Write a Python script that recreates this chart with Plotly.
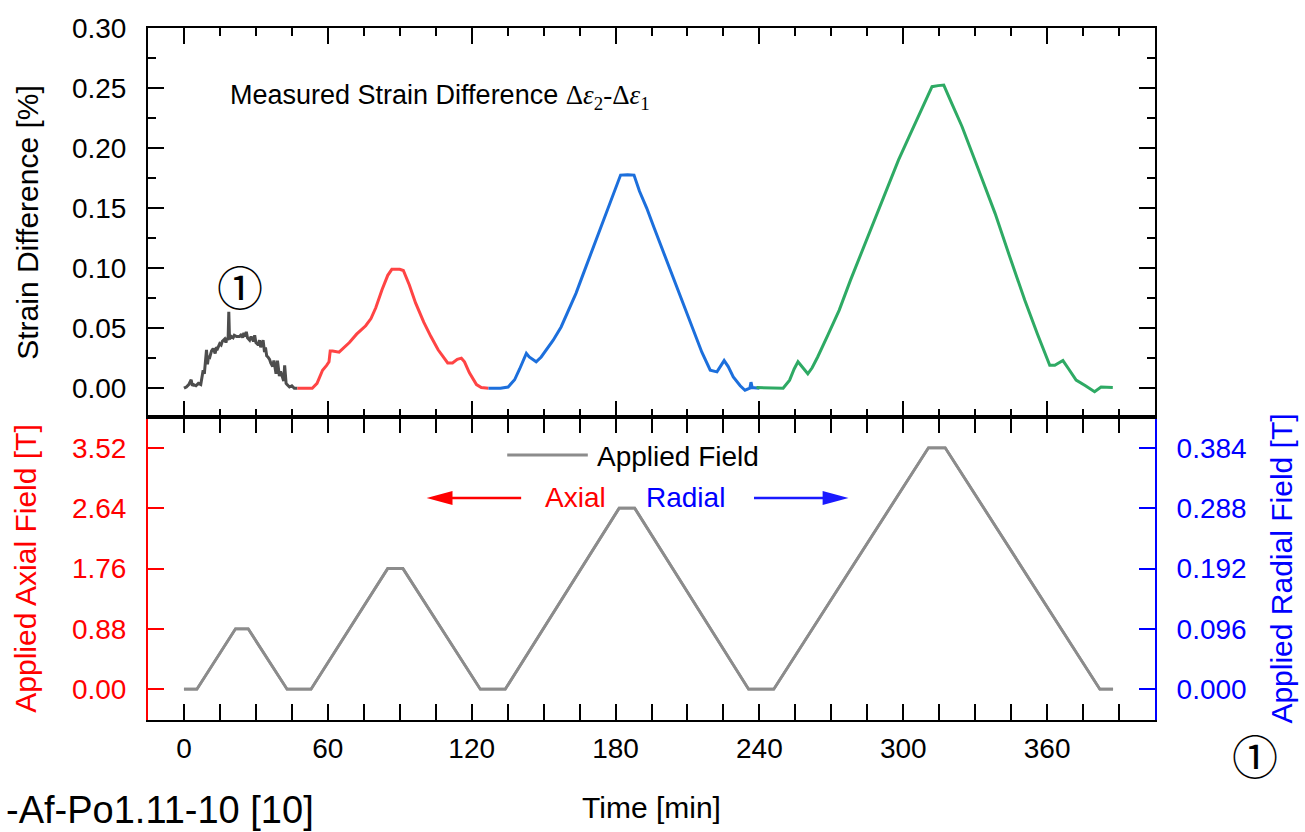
import plotly.graph_objects as go

# ---------------- data ----------------
gray_t = [0, 1, 2, 3, 3.5, 4, 5, 6, 7, 7.5, 8, 8.5, 9, 9.4, 9.8, 10.3, 10.8, 11.5, 12.2, 13,
          13.5, 14, 14.9, 15.5, 16, 17, 17.5, 18, 18.4, 18.7, 19, 19.8, 20.5, 21, 22, 23.2,
          24, 24.5, 25, 25.5, 26, 26.5, 27.4, 28, 29, 29.5, 30, 31, 31.5, 32, 33, 33.6,
          34, 34.5, 35, 35.7, 36.2, 37, 37.5, 38, 38.4, 39, 39.8, 40.3, 41.2, 41.6, 42,
          42.6, 43, 44, 45, 46, 47.3]
gray_s = [0, 0.001, 0.003, 0.007, 0.002, 0.003, 0.002, 0.004, 0.003, 0.009, 0.015, 0.012,
          0.025, 0.032, 0.020, 0.027, 0.026, 0.031, 0.033, 0.029, 0.034, 0.033, 0.037, 0.036,
          0.039, 0.041, 0.038, 0.042, 0.040, 0.0636, 0.041, 0.043, 0.042, 0.044, 0.043, 0.043,
          0.045, 0.042, 0.046, 0.043, 0.047, 0.042, 0.040, 0.043, 0.039, 0.044, 0.038, 0.036,
          0.040, 0.034, 0.040, 0.030, 0.034, 0.027, 0.026, 0.024, 0.021, 0.018, 0.023, 0.015,
          0.012, 0.023, 0.010, 0.014, 0.009, 0.006, 0.019, 0.004, 0.003, 0.001, 0.002, 0.0,
          0.0]

red_t = [47.3, 50, 53.5, 55.5, 57.8, 59.5, 60.5, 61, 62, 64.7, 67, 69, 72, 75.8, 78, 80,
         82.6, 85, 86.7, 90, 91.5, 94, 96.6, 100, 103, 106, 110, 112, 114, 115.7, 117, 119,
         122, 124, 127]
red_s = [0, 0, 0, 0.004, 0.015, 0.019, 0.022, 0.031, 0.031, 0.030, 0.034, 0.038, 0.045,
         0.052, 0.058, 0.067, 0.082, 0.094, 0.099, 0.099, 0.098, 0.086, 0.071, 0.055, 0.043,
         0.032, 0.021, 0.021, 0.024, 0.025, 0.022, 0.013, 0.003, 0.0005, 0]

blue_t = [127, 132, 135.2, 137.9, 140, 142.8, 144, 146.9, 149, 151.7, 154, 157.3, 160, 163.5,
          166.5, 169.7, 173, 176.6, 179.5, 182.1, 185, 187.7, 190, 193, 196, 200, 204.3,
          208.5, 212.6, 216, 219.5, 222.3, 225.3, 227, 229.1, 232, 234, 236, 236.5, 237, 240]
blue_s = [0, 0, 0.001, 0.007, 0.016, 0.029, 0.026, 0.022, 0.026, 0.033, 0.040, 0.051, 0.063,
          0.079, 0.095, 0.112, 0.130, 0.148, 0.163, 0.1775, 0.1778, 0.1775, 0.164, 0.150,
          0.134, 0.113, 0.090, 0.069, 0.048, 0.030, 0.015, 0.0136, 0.023, 0.018, 0.0094,
          0.002, -0.0017, 0, 0.005, 0.0005, 0]

green_t = [238.8, 245.7, 249.9, 252.6, 254.5, 256.1, 258, 260.2, 262, 264.3, 268.5, 273.3,
           278, 283, 288.5, 294, 298, 302.4, 307, 312, 314.5, 316.9, 320.5, 324.5, 331.4,
           338.3, 344.5, 350.7, 356, 361.1, 363.2, 366.6, 369, 372.1, 376, 379.8, 382.5, 387.4]
green_s = [0.0005, 0.0005, 0, 0.0067, 0.016, 0.022, 0.017, 0.012, 0.017, 0.026, 0.044, 0.065,
           0.090, 0.115, 0.143, 0.1706, 0.190, 0.2094, 0.230, 0.2511, 0.252, 0.2525, 0.236,
           0.218, 0.182, 0.1456, 0.109, 0.0733, 0.045, 0.019, 0.019, 0.023, 0.016, 0.0067,
           0.002, -0.003, 0.001, 0.0005]

field_t = [0, 5.4, 21.5, 26.8, 43, 53, 85, 91.3, 123.6, 134, 181.5, 188, 235.5, 246, 310.5,
           317.5, 382, 387.5]
field_axial = [0, 0, 0.88, 0.88, 0, 0, 1.76, 1.76, 0, 0, 2.64, 2.64, 0, 0, 3.52, 3.52, 0, 0]

time_ticks = [0, 60, 120, 180, 240, 300, 360]
axial_ticks = [0.00, 0.88, 1.76, 2.64, 3.52]
radial_ticks = [0.000, 0.096, 0.192, 0.288, 0.384]
radial_ratio = 0.384 / 3.52

# ---------------- geometry helpers (pixel -> paper) ----------------
L, R, T, B = 148, 1160, 28, 720
W, H = 1305, 832
def px(x):
    return (x - L) / (R - L)
def py(y):
    return (B - y) / (B - T)

split = py(417)

FONT = "Liberation Sans, Arial, sans-serif"
c_gray, c_red, c_blue, c_green = "#4d4d4d", "#ff4444", "#1c6fdc", "#2eaa64"

fig = go.Figure()
for t, s, c in [(gray_t, gray_s, c_gray), (red_t, red_s, c_red),
                (blue_t, blue_s, c_blue), (green_t, green_s, c_green)]:
    fig.add_trace(go.Scatter(x=t, y=s, mode="lines", xaxis="x2", yaxis="y",
                             line=dict(color=c, width=3), showlegend=False))
fig.add_trace(go.Scatter(x=field_t, y=field_axial, mode="lines", xaxis="x", yaxis="y2",
                         line=dict(color="#8c8c8c", width=2.8), showlegend=False))
# radial-scale copy of the field (same line, drawn on the right axis)
fig.add_trace(go.Scatter(x=field_t, y=[v * radial_ratio for v in field_axial], mode="lines",
                         xaxis="x", yaxis="y3", line=dict(color="#8c8c8c", width=2.8),
                         showlegend=False, hoverinfo="skip"))

xr = [-15, 405]
tickstyle = dict(ticks="inside", ticklen=16, tickwidth=2, showline=True, linewidth=2,
                 showgrid=False, zeroline=False)
fig.update_layout(
    width=W, height=H,
    margin=dict(l=L, r=W - R, t=T, b=H - B),
    plot_bgcolor="white", paper_bgcolor="white",
    font=dict(family=FONT, size=28, color="black"),
    showlegend=False,
    xaxis=dict(domain=[0, 1], anchor="y2", range=xr, tickvals=time_ticks,
               linecolor="black", tickcolor="black", mirror="allticks",
               minor=dict(dtick=15, tick0=0, ticks="inside", ticklen=8, tickwidth=2,
                          tickcolor="black"),
               ticklabelstandoff=2,
               title=dict(text="Time [min]", font=dict(size=30), standoff=34),
               **tickstyle),
    xaxis2=dict(domain=[0, 1], anchor="y", matches="x", range=xr, tickvals=time_ticks,
                showticklabels=False, linecolor="black", tickcolor="black",
                mirror="allticks",
                minor=dict(dtick=15, tick0=0, ticks="inside", ticklen=8, tickwidth=2,
                           tickcolor="black"),
                **tickstyle),
    yaxis=dict(domain=[split, 1], anchor="x2", range=[-0.024, 0.30], dtick=0.05, tick0=0,
               tickformat=".2f", linecolor="black", tickcolor="black", mirror="allticks",
               minor=dict(dtick=0.025, tick0=0, ticks="inside", ticklen=8, tickwidth=2,
                          tickcolor="black"),
               ticklabelstandoff=14,
               title=dict(text="Strain Difference [%]", font=dict(size=30), standoff=24),
               **tickstyle),
    yaxis2=dict(domain=[0, split], anchor="x", range=[-0.45, 3.97], tickvals=axial_ticks,
                ticktext=[f"{v:.2f}" for v in axial_ticks], linecolor="#ff0000",
                tickcolor="#ff0000", tickfont=dict(color="#ff0000"),
                ticklabelstandoff=14,
                title=dict(text="Applied Axial Field [T]", font=dict(size=30, color="#ff0000"),
                           standoff=26),
                **tickstyle),
    yaxis3=dict(overlaying="y2", side="right", anchor="x",
                range=[-0.45 * radial_ratio, 3.97 * radial_ratio], tickvals=radial_ticks,
                ticktext=[f"{v:.3f}" for v in radial_ticks], linecolor="#0000ff",
                tickcolor="#0000ff", tickfont=dict(color="#0000ff"),
                ticklabelstandoff=14,
                title=dict(text="Applied Radial Field [T]", font=dict(size=30, color="#0000ff"),
                           standoff=25),
                **tickstyle),
)

def note(x, y, text, size=28, color="black", family=None, xanchor="center"):
    f = dict(size=size, color=color)
    if family:
        f["family"] = family
    return dict(xref="paper", yref="paper", x=px(x), y=py(y), xanchor=xanchor,
                yanchor="middle", showarrow=False, font=f, text=text)

ann = [
    note(228, 97, "Measured Strain Difference <span style='font-family:Liberation Serif'>"
                  "Δ<i>ε</i><sub>2</sub>-Δ<i>ε</i><sub>1</sub></span>", size=27, xanchor="left"),
    note(240, 285, "①", size=46, family="Noto Sans CJK JP"),
    note(1260, 754, "①", size=46, family="Noto Sans CJK JP"),
    note(3, 810, "-Af-Po1.11-10 [10]", size=38, xanchor="left"),
    note(597, 456, "Applied Field", xanchor="left"),
    note(578, 497, "Axial", color="#ff0000"),
    note(688, 497, "Radial", color="#0000ff"),
]
fig.update_layout(annotations=ann)

shapes = []
shapes.append(dict(type="line", xref="paper", yref="paper", x0=px(509), x1=px(590),
                   y0=py(455), y1=py(455), line=dict(color="#8c8c8c", width=2.8)))
# red arrow (left)
shapes.append(dict(type="line", xref="paper", yref="paper", x0=px(448), x1=px(523),
                   y0=py(498), y1=py(498), line=dict(color="#ff0000", width=2.5)))
shapes.append(dict(type="path", xref="paper", yref="paper",
                   path=f"M{px(428)},{py(498)} L{px(454)},{py(491)} L{px(454)},{py(505)} Z",
                   fillcolor="#ff0000", line=dict(width=0)))
# blue arrow (right)
shapes.append(dict(type="line", xref="paper", yref="paper", x0=px(757), x1=px(832),
                   y0=py(498), y1=py(498), line=dict(color="#1a1aff", width=2.5)))
shapes.append(dict(type="path", xref="paper", yref="paper",
                   path=f"M{px(852)},{py(498)} L{px(826)},{py(491)} L{px(826)},{py(505)} Z",
                   fillcolor="#1a1aff", line=dict(width=0)))
fig.update_layout(shapes=shapes)

fig.write_html("out.html", config={"displayModeBar": False},
               post_script="document.body.style.margin='0';document.body.style.overflow='hidden';")
